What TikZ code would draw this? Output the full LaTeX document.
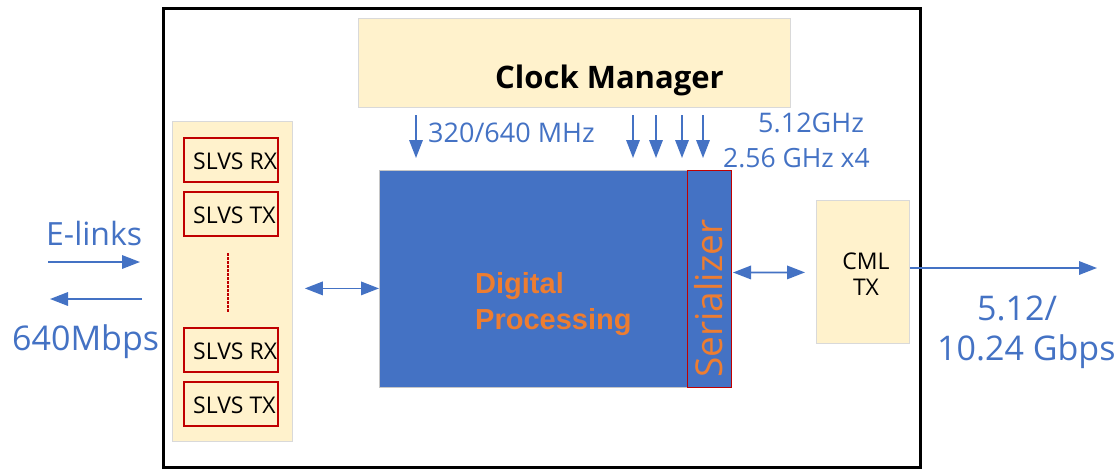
\documentclass[tikz,border=0pt]{standalone}
\usepackage{fontspec}
\setmainfont{Open Sans}
\newfontfamily\procfont{Liberation Sans}
\usetikzlibrary{arrows.meta}
\definecolor{linkblue}{HTML}{4472C4}
\definecolor{cream}{HTML}{FFF2CC}
\definecolor{creamedge}{HTML}{D9D9D9}
\definecolor{slvsred}{HTML}{C00000}
\definecolor{accent}{HTML}{ED7D31}
\newcommand\fsz[1]{\fontsize{#1}{#1}\selectfont}

\begin{document}
\begin{tikzpicture}[x=1pt,y=-1pt,
  block/.style={draw=creamedge, line width=0.8pt, fill=cream, inner sep=0pt, anchor=north west},
  cell/.style={draw=slvsred, line width=2.4pt, fill=cream, inner sep=0pt, anchor=north west,
               minimum width=94pt, minimum height=44pt},
  celltext/.style={inner sep=0pt, anchor=base west, font=\fsz{23}},
  lbl/.style={inner sep=0pt, anchor=base west, text=linkblue},
  arr/.style={draw=linkblue, line width=1.7pt, -{Triangle[length=18pt,width=13.5pt]}},
  biarr/.style={draw=linkblue, line width=1.7pt,
                {Triangle[length=18pt,width=13.5pt]}-{Triangle[length=18pt,width=13.5pt]}},
]
\useasboundingbox (0,0) rectangle (1118,469);

% chip outline
\node[draw=black, line width=3pt, inner sep=0pt, anchor=north west,
      minimum width=757pt, minimum height=459pt] (chip) at (162,7) {};

% clock manager
\node[block, minimum width=432pt, minimum height=89pt] (cm) at (358,18) {};
\node[inner sep=0pt, anchor=base west, font=\fsz{31}\bfseries] (cmtext) at (495,88) {Clock Manager};

% SLVS panel
\node[block, minimum width=120pt, minimum height=320pt] (panel) at (172,121) {};
\node[cell] (rxa) at (183,137) {};
\node[cell] (txa) at (183,191) {};
\node[cell] (rxb) at (183,327) {};
\node[cell] (txb) at (183,381) {};
\node[celltext] at ([xshift=10pt,yshift=-32pt]rxa.north west) {SLVS RX};
\node[celltext] at ([xshift=10pt,yshift=-32pt]txa.north west) {SLVS TX};
\node[celltext] at ([xshift=10pt,yshift=-32pt]rxb.north west) {SLVS RX};
\node[celltext] at ([xshift=10pt,yshift=-32pt]txb.north west) {SLVS TX};
\draw[slvsred, line width=2.2pt, dash pattern=on 2.5pt off 1.5pt,
      shorten <=16pt, shorten >=15pt]
  ([xshift=-3pt]txa.south) -- ([xshift=-3pt]rxb.north);

% digital processing and serializer
\node[draw=gray!45, line width=0.8pt, fill=linkblue, inner sep=0pt, anchor=north west,
      minimum width=308pt, minimum height=217pt] (dp) at (379,170) {};
\node[draw=slvsred, line width=1pt, fill=linkblue, inner sep=0pt, anchor=north west,
      minimum width=44pt, minimum height=217pt] (ser) at (687,170) {};
\node[inner sep=0pt, anchor=base west, text=accent, font=\procfont\bfseries\fsz{29}] at (475,293) {Digital};
\node[inner sep=0pt, anchor=base west, text=accent, font=\procfont\bfseries\fsz{29}] at (475,329) {Processing};
\node[inner sep=0pt, anchor=base west, rotate=90, text=accent, font=\fsz{37}] at (722,378) {Serializer};

% CML transmitter
\node[block, minimum width=93pt, minimum height=143pt] (cml) at (816,200) {};
\node[inner sep=0pt, anchor=base, font=\fsz{23}] at (866,269) {CML};
\node[inner sep=0pt, anchor=base, font=\fsz{23}] at (866,295) {TX};

% clock lines
\coordinate (ck0) at (416,115);
\coordinate (ck1) at (633,115);
\coordinate (ck2) at (656,115);
\coordinate (ck3) at (682,115);
\coordinate (ck4) at (703,115);
\foreach \c in {ck0,ck1,ck2,ck3,ck4}
  \draw[arr, shorten >=12pt] (\c) -- (\c |- dp.north);
\node[lbl, font=\fsz{27}] at (428,142) {320/640 MHz};
\node[lbl, font=\fsz{27}] at (758,132) {5.12GHz};
\node[lbl, font=\fsz{26.5}] at (723,167) {2.56 GHz x4};

% data paths
\draw[biarr] ([xshift=12pt,yshift=-7pt]panel.east) -- ([yshift=-9.5pt]dp.west);
\draw[biarr] ([xshift=1pt,yshift=6.5pt]ser.east) -- ([xshift=-11pt,yshift=-0.5pt]cml.west);
\coordinate (out) at (1097,268);
\draw[arr] (cml.east |- out) -- (out);
\node[lbl, font=\fsz{34}] at (977,320) {5.12/};
\node[lbl, font=\fsz{34}] at (937,360) {10.24 Gbps};

% e-links
\coordinate (ina) at (48,262);
\coordinate (inb) at (140,262);
\coordinate (outa) at (142,299);
\coordinate (outb) at (50,299);
\draw[arr] (ina) -- (inb);
\draw[arr] (outa) -- (outb);
\node[lbl, font=\fsz{32}] at (46,245) {E-links};
\node[lbl, font=\fsz{34}] at (12,350) {640Mbps};
\end{tikzpicture}
\end{document}
